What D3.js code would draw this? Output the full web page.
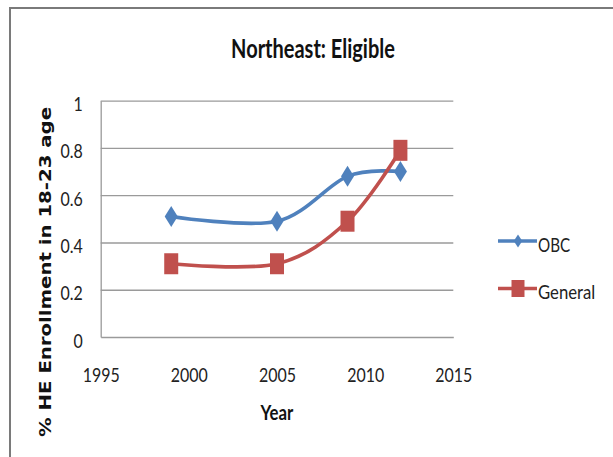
<!DOCTYPE html>
<html>
<head>
<meta charset="utf-8">
<script src="https://cdn.jsdelivr.net/npm/d3@7"></script>
<style>
  body { margin: 0; background: #fff; }
  svg { display: block; }
</style>
</head>
<body>
<svg id="chart" width="613" height="457"></svg>
<script>
// Survey years and enrolment shares per group
const years = [1999, 2005, 2009, 2012];
const obcValues = [0.51, 0.49, 0.68, 0.70];
const generalValues = [0.31, 0.31, 0.49, 0.79];
const seriesNames = ["OBC", "General"];
const xTickValues = [1995, 2000, 2005, 2010, 2015];
const yTickValues = [0, 0.2, 0.4, 0.6, 0.8, 1];
const chartTitle = "Northeast: Eligible";
const xAxisTitle = "Year";
const yAxisTitle = "% HE Enrollment in 18-23 age";

const series = [
  { name: seriesNames[0], values: obcValues, color: "#4F81BD", marker: "diamond" },
  { name: seriesNames[1], values: generalValues, color: "#C0504D", marker: "square" }
];

const svg = d3.select("#chart");
const W = 613, H = 457;
const plot = { left: 100.7, right: 453.3, top: 100.7, bottom: 337 };
const SANS = "Lato, 'Open Sans', sans-serif";

svg.append("rect").attr("width", W).attr("height", H).attr("fill", "#fff");

// Chart-area frame (top and left edges)
svg.append("path")
  .attr("d", `M10,${H} L10,8 L${W},8`)
  .attr("fill", "none")
  .attr("stroke", "#7a7a7a")
  .attr("stroke-width", 2);

const x = d3.scaleLinear().domain([1995, 2015]).range([plot.left, plot.right]);
const y = d3.scaleLinear().domain([0, 1]).range([plot.bottom, plot.top]);

// Squeeze text horizontally to mimic a narrow face
function condense(sel, k) {
  sel.each(function () {
    const w = this.getComputedTextLength();
    d3.select(this).attr("textLength", w * k).attr("lengthAdjust", "spacingAndGlyphs");
  });
}

// Horizontal gridlines
svg.append("g")
  .attr("transform", `translate(${plot.left},0)`)
  .call(d3.axisLeft(y).tickValues(yTickValues.filter(d => d > 0))
    .tickSize(-(plot.right - plot.left)).tickFormat(""))
  .call(g => g.select(".domain").remove())
  .call(g => g.selectAll("line").attr("stroke", "#9a9a9a").attr("stroke-width", 1.3));

// Y axis
const yAxis = svg.append("g")
  .attr("transform", `translate(${plot.left},0)`)
  .call(d3.axisLeft(y).tickValues(yTickValues).tickSize(0).tickSizeOuter(0)
    .tickFormat(d => String(d)));
yAxis.select(".domain").attr("stroke", "#9a9a9a").attr("stroke-width", 1.3);
yAxis.selectAll("text")
  .attr("x", -18).attr("dy", null).attr("y", 10)
  .attr("fill", "#222")
  .style("font-family", SANS).style("font-size", "19px");
condense(yAxis.selectAll("text"), 0.84);

// X axis
const xAxis = svg.append("g")
  .attr("transform", `translate(0,${plot.bottom})`)
  .call(d3.axisBottom(x).tickValues(xTickValues).tickSize(0).tickSizeOuter(0)
    .tickFormat(d3.format("d")));
xAxis.select(".domain").attr("stroke", "#9a9a9a").attr("stroke-width", 1.3);
xAxis.selectAll("text")
  .attr("y", 44.5).attr("dy", null)
  .attr("fill", "#222")
  .style("font-family", SANS).style("font-size", "19px");
condense(xAxis.selectAll("text"), 0.84);

// Smoothed series lines
const line = d3.line()
  .x((d, i) => x(years[i]))
  .y(d => y(d))
  .curve(d3.curveCardinal.tension(0));

function markerPath(type, w, h) {
  if (type === "diamond") {
    return `M0,${-h / 2} L${w / 2},0 L0,${h / 2} L${-w / 2},0 Z`;
  }
  return `M${-w / 2},${-h / 2} H${w / 2} V${h / 2} H${-w / 2} Z`;
}

series.forEach(s => {
  svg.append("path")
    .attr("d", line(s.values))
    .attr("fill", "none")
    .attr("stroke", s.color)
    .attr("stroke-width", 3.6)
    .attr("stroke-linecap", "round");
});

series.forEach(s => {
  svg.append("g").selectAll("path")
    .data(s.values)
    .join("path")
    .attr("transform", (d, i) => `translate(${x(years[i])},${y(d)})`)
    .attr("d", s.marker === "diamond" ? markerPath("diamond", 13, 21) : markerPath("square", 14, 21))
    .attr("fill", s.color);
});

// Legend
const legend = svg.append("g");
series.forEach((s, i) => {
  const ly = 241 + i * 47.5;
  const g = legend.append("g").attr("transform", `translate(0,${ly})`);
  g.append("line").attr("x1", 498).attr("x2", 537).attr("y1", 0).attr("y2", 0)
    .attr("stroke", s.color).attr("stroke-width", 3.6);
  g.append("path")
    .attr("transform", "translate(518,0)")
    .attr("d", s.marker === "diamond" ? markerPath("diamond", 8.5, 13) : markerPath("square", 13, 17))
    .attr("fill", s.color);
  const t = g.append("text").attr("x", 538).attr("y", 10.5)
    .attr("fill", "#222")
    .style("font-family", SANS).style("font-size", "19px")
    .text(s.name);
  condense(t, s.name.length > 3 ? 0.88 : 0.8);
});

// Titles
const title = svg.append("text")
  .attr("x", 313).attr("y", 58.3)
  .attr("text-anchor", "middle")
  .attr("fill", "#111")
  .style("font-family", SANS).style("font-size", "27px").style("font-weight", "bold")
  .text(chartTitle);
condense(title, 0.74);

const xt = svg.append("text")
  .attr("x", (plot.left + plot.right) / 2).attr("y", 419.5)
  .attr("text-anchor", "middle")
  .attr("fill", "#111")
  .style("font-family", SANS).style("font-size", "20px").style("font-weight", "bold")
  .text(xAxisTitle);
condense(xt, 0.84);

svg.append("text")
  .attr("transform", "translate(51,272) rotate(-90)")
  .attr("text-anchor", "middle")
  .attr("fill", "#111")
  .attr("textLength", 330).attr("lengthAdjust", "spacingAndGlyphs")
  .style("font-family", "'DejaVu Sans', sans-serif").style("font-size", "16px").style("font-weight", "bold")
  .text(yAxisTitle);
</script>
</body>
</html>
